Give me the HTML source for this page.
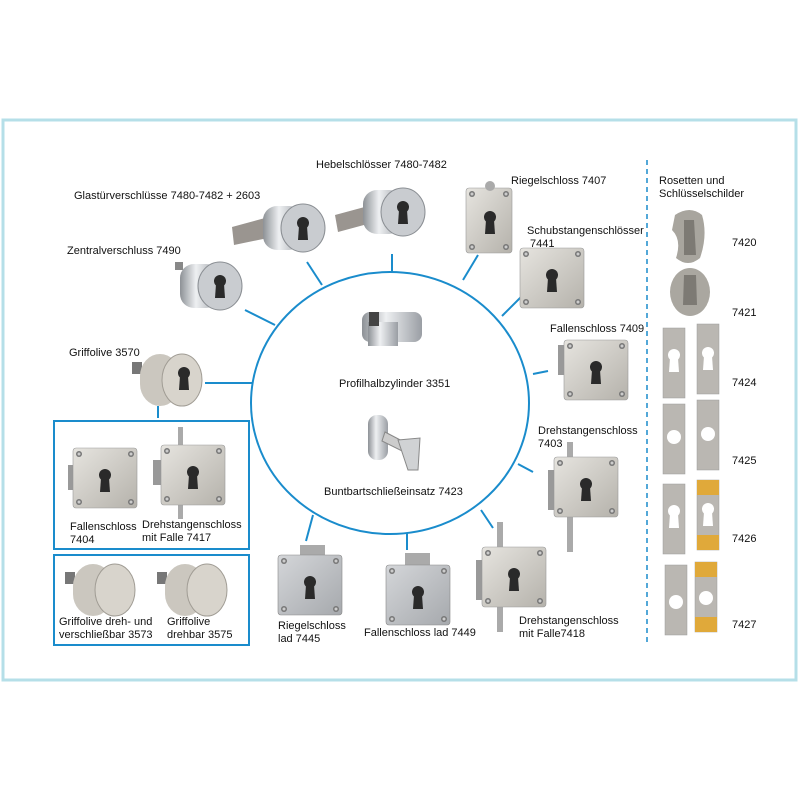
<!DOCTYPE html>
<html><head><meta charset="utf-8"><style>
html,body{margin:0;padding:0;background:#fff;}
svg{display:block;font-family:"Liberation Sans",sans-serif;font-size:11px;}
</style></head><body>
<svg width="800" height="800" viewBox="0 0 800 800" xmlns="http://www.w3.org/2000/svg">
<defs>
<linearGradient id="sil" x1="0" y1="0" x2="1" y2="1"><stop offset="0" stop-color="#e6e4df"/><stop offset="1" stop-color="#b5b2ab"/></linearGradient>
<linearGradient id="chr" x1="0" y1="0" x2="1" y2="0"><stop offset="0" stop-color="#8d9196"/><stop offset=".4" stop-color="#eef0f2"/><stop offset="1" stop-color="#9a9ea4"/></linearGradient>
<linearGradient id="alu" x1="0" y1="0" x2="1" y2="1"><stop offset="0" stop-color="#d4d6d9"/><stop offset="1" stop-color="#a6a9ad"/></linearGradient>
<g id="kh"><circle cx="0" cy="-5" r="6" fill="#2a2a2a"/><path d="M-4,-2 L4,-2 L5,12 L-5,12 Z" fill="#2a2a2a"/></g>
<g id="khw"><circle cx="0" cy="-5" r="6" fill="#fff"/><path d="M-4,-2 L4,-2 L5,12 L-5,12 Z" fill="#fff"/></g>
<g id="scr"><circle r="3" fill="#777"/><circle r="1.5" fill="#ccc"/></g>
<g id="plate">
<rect x="-32" y="-30" width="64" height="60" rx="3" fill="url(#sil)" stroke="#999" stroke-width=".6"/>
<use href="#scr" x="-26" y="-24"/><use href="#scr" x="26" y="-24"/><use href="#scr" x="-26" y="24"/><use href="#scr" x="26" y="24"/>
<use href="#kh" x="0" y="2"/>
</g>
<g id="plateA">
<rect x="-32" y="-30" width="64" height="60" rx="3" fill="url(#alu)" stroke="#888" stroke-width=".6"/>
<use href="#scr" x="-26" y="-24"/><use href="#scr" x="26" y="-24"/><use href="#scr" x="-26" y="24"/><use href="#scr" x="26" y="24"/>
<use href="#kh" x="0" y="2"/>
</g>
<g id="cyl">
<rect x="-30" y="-22" width="40" height="44" rx="14" fill="url(#chr)"/>
<ellipse cx="10" cy="0" rx="22" ry="24" fill="#c9ccd0" stroke="#8a8e93" stroke-width="1"/>
<use href="#kh" x="10" y="0"/>
</g>
<g id="knob">
<rect x="-38" y="-18" width="10" height="12" fill="#777"/>
<rect x="-30" y="-26" width="40" height="52" rx="22" fill="#cbc7bf"/>
<ellipse cx="12" cy="0" rx="20" ry="26" fill="#d8d4cc" stroke="#a09c94"/>
</g>
</defs>

<!-- outer frame -->
<rect x="3" y="120" width="793" height="560" fill="none" stroke="#b5dfe8" stroke-width="3"/>

<!-- circle -->
<ellipse cx="390" cy="403" rx="139" ry="131" fill="none" stroke="#1a8ccc" stroke-width="2"/>

<!-- connectors -->
<g stroke="#1a8ccc" stroke-width="2">
<line x1="245" y1="310" x2="275" y2="325"/>
<line x1="307" y1="262" x2="322" y2="285"/>
<line x1="392" y1="254" x2="392" y2="272"/>
<line x1="478" y1="255" x2="463" y2="280"/>
<line x1="525" y1="293" x2="502" y2="316"/>
<line x1="548" y1="371" x2="533" y2="374"/>
<line x1="205" y1="383" x2="252" y2="383"/>
<line x1="158" y1="406" x2="158" y2="418"/>
<line x1="533" y1="472" x2="518" y2="464"/>
<line x1="493" y1="528" x2="481" y2="510"/>
<line x1="313" y1="515" x2="306" y2="541"/>
<line x1="407" y1="533" x2="407" y2="550"/>
</g>

<!-- boxes -->
<rect x="54" y="421" width="195" height="128" fill="none" stroke="#1a8ccc" stroke-width="2"/>
<rect x="54" y="555" width="195" height="90" fill="none" stroke="#1a8ccc" stroke-width="2"/>

<!-- dashed line -->
<line x1="647" y1="160" x2="647" y2="645" stroke="#1a8ccc" stroke-width="1.5" stroke-dasharray="5,4"/>

<!-- products -->
<g>
<!-- Glastür -->
<path d="M232,227 L265,218 L268,238 L234,245 Z" fill="#9a9590"/>
<use href="#cyl" x="293" y="228"/>
<!-- Hebel -->
<path d="M335,215 L372,205 L375,222 L338,232 Z" fill="#9a9590"/>
<use href="#cyl" x="393" y="212"/>
<!-- Zentral -->
<rect x="175" y="262" width="8" height="8" fill="#888"/>
<use href="#cyl" x="210" y="286"/>
<!-- Griffolive 3570 -->
<use href="#knob" x="170" y="380"/>
<use href="#kh" x="184" y="378"/>
<!-- Riegelschloss 7407 -->
<rect x="64" y="38" width="0" height="0"/>
<rect x="466" y="188" width="46" height="65" rx="3" fill="url(#sil)" stroke="#999" stroke-width=".6"/>
<circle cx="490" cy="186" r="5" fill="#aaa"/>
<use href="#kh" x="490" y="222"/>
<use href="#scr" x="472" y="194"/><use href="#scr" x="506" y="194"/><use href="#scr" x="472" y="247"/><use href="#scr" x="506" y="247"/>
<!-- Schub 7441 -->
<use href="#plate" x="552" y="278"/>
<!-- Fallen 7409 -->
<rect x="558" y="345" width="10" height="30" fill="#999"/>
<use href="#plate" x="596" y="370"/>
<!-- Dreh 7403 -->
<rect x="567" y="442" width="6" height="110" fill="#aaa"/>
<rect x="548" y="470" width="8" height="40" fill="#999"/>
<use href="#plate" x="586" y="487"/>
<!-- Dreh 7418 -->
<rect x="497" y="522" width="6" height="110" fill="#aaa"/>
<rect x="476" y="560" width="8" height="40" fill="#999"/>
<use href="#plate" x="514" y="577"/>
<!-- Riegel lad 7445 -->
<rect x="300" y="545" width="25" height="12" fill="#aaa"/>
<use href="#plateA" x="310" y="585"/>
<!-- Fallen lad 7449 -->
<rect x="405" y="553" width="25" height="12" fill="#aaa"/>
<use href="#plateA" x="418" y="595"/>
<!-- Profilhalbzylinder -->
<rect x="362" y="312" width="60" height="30" rx="8" fill="url(#chr)"/>
<rect x="368" y="322" width="30" height="24" fill="url(#chr)"/>
<rect x="369" y="312" width="10" height="14" fill="#444"/>
<!-- Buntbart -->
<rect x="368" y="415" width="20" height="45" rx="9" fill="url(#chr)"/>
<path d="M385,432 L408,444 L404,452 L382,441 Z" fill="#ccc" stroke="#888"/>
<path d="M398,440 L420,438 L418,470 L408,470 Z" fill="#d0d2d4" stroke="#888"/>
<!-- box1 -->
<rect x="68" y="465" width="10" height="25" fill="#999"/>
<use href="#plate" x="105" y="478"/>
<rect x="178" y="427" width="5" height="92" fill="#aaa"/>
<rect x="153" y="460" width="10" height="25" fill="#999"/>
<use href="#plate" x="193" y="475"/>
<!-- box2 knobs -->
<use href="#knob" x="103" y="590"/>
<use href="#knob" x="195" y="590"/>
</g>

<!-- right column -->
<g>
<path d="M675,215 Q690,205 702,215 Q708,235 700,258 Q688,268 676,258 Q682,240 672,230 Z" fill="#a8a59e"/>
<path d="M684,220 L694,220 L696,255 L684,255 Z" fill="#7d7a74"/>
<ellipse cx="690" cy="292" rx="20" ry="24" fill="#aaa7a0"/>
<path d="M684,275 L696,275 L697,305 L683,305 Z" fill="#7d7a74"/>
<g fill="#bab7b2" stroke="#999" stroke-width=".5">
<rect x="663" y="328" width="22" height="70"/><rect x="697" y="324" width="22" height="70"/>
<rect x="663" y="404" width="22" height="70"/><rect x="697" y="400" width="22" height="70"/>
<rect x="663" y="484" width="22" height="70"/><rect x="697" y="480" width="22" height="70"/>
<rect x="665" y="565" width="22" height="70"/><rect x="695" y="562" width="22" height="70"/>
</g>
<rect x="697" y="480" width="22" height="15" fill="#e0a93a"/><rect x="697" y="535" width="22" height="15" fill="#e0a93a"/>
<rect x="695" y="562" width="22" height="15" fill="#e0a93a"/><rect x="695" y="617" width="22" height="15" fill="#e0a93a"/>
<use href="#khw" x="674" y="360" transform=""/><use href="#khw" x="708" y="358"/>
<circle cx="674" cy="437" r="7" fill="#fff"/><circle cx="708" cy="434" r="7" fill="#fff"/>
<use href="#khw" x="674" y="516"/><use href="#khw" x="708" y="514"/>
<circle cx="676" cy="602" r="7" fill="#fff"/><circle cx="706" cy="598" r="7" fill="#fff"/>
</g>

<!-- labels -->
<g fill="#111">
<text x="74" y="199">Glastürverschlüsse 7480-7482 + 2603</text>
<text x="316" y="168">Hebelschlösser 7480-7482</text>
<text x="67" y="254">Zentralverschluss 7490</text>
<text x="69" y="356">Griffolive 3570</text>
<text x="511" y="184">Riegelschloss 7407</text>
<text x="527" y="234">Schubstangenschlösser</text>
<text x="530" y="247">7441</text>
<text x="550" y="332">Fallenschloss 7409</text>
<text x="339" y="387">Profilhalbzylinder 3351</text>
<text x="324" y="495">Buntbartschließeinsatz 7423</text>
<text x="538" y="434">Drehstangenschloss</text>
<text x="538" y="447">7403</text>
<text x="70" y="530">Fallenschloss</text>
<text x="70" y="543">7404</text>
<text x="142" y="528">Drehstangenschloss</text>
<text x="142" y="541">mit Falle 7417</text>
<text x="59" y="625">Griffolive dreh- und</text>
<text x="59" y="638">verschließbar 3573</text>
<text x="167" y="625">Griffolive</text>
<text x="167" y="638">drehbar 3575</text>
<text x="278" y="629">Riegelschloss</text>
<text x="278" y="642">lad 7445</text>
<text x="364" y="636">Fallenschloss lad 7449</text>
<text x="519" y="624">Drehstangenschloss</text>
<text x="519" y="637">mit Falle7418</text>
<text x="659" y="184">Rosetten und</text>
<text x="659" y="197">Schlüsselschilder</text>
<text x="732" y="246">7420</text>
<text x="732" y="316">7421</text>
<text x="732" y="386">7424</text>
<text x="732" y="464">7425</text>
<text x="732" y="542">7426</text>
<text x="732" y="628">7427</text>
</g>
</svg>
</body></html>
